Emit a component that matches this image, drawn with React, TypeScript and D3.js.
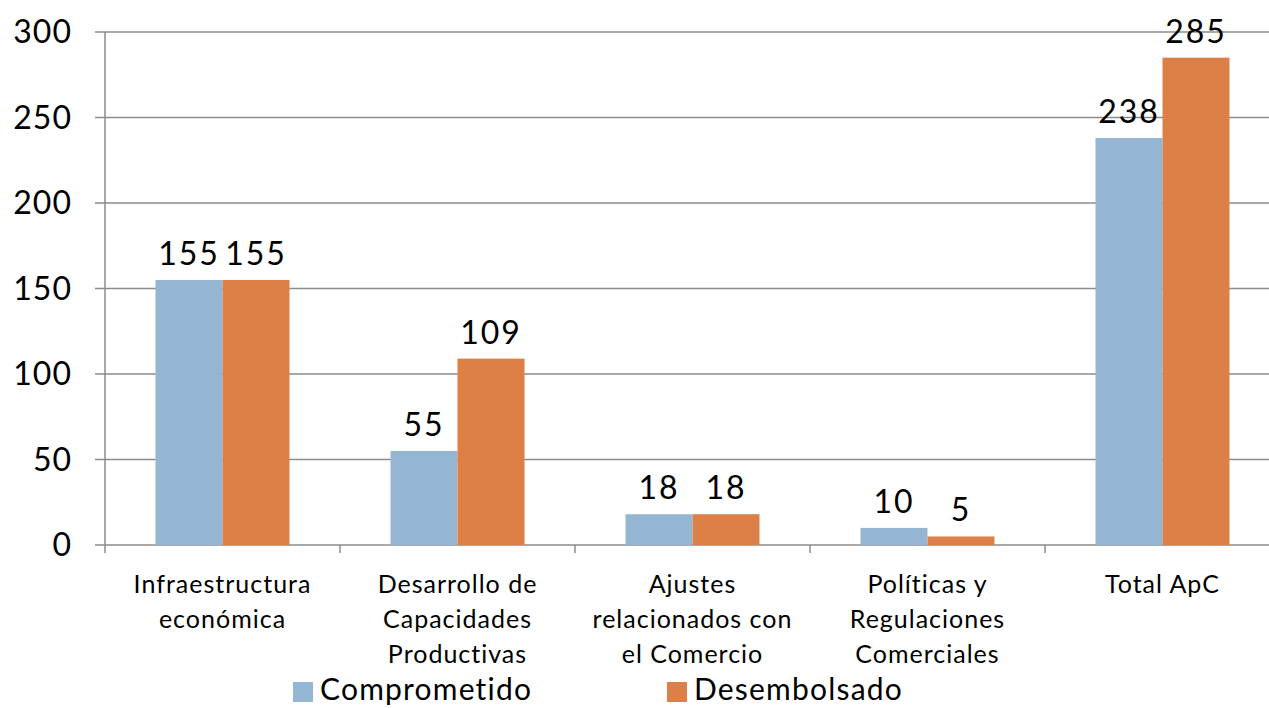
import React from "react";
import * as d3 from "d3";

const categories: string[][] = [
  ["Infraestructura", "económica"],
  ["Desarrollo de", "Capacidades", "Productivas"],
  ["Ajustes", "relacionados con", "el Comercio"],
  ["Políticas y", "Regulaciones", "Comerciales"],
  ["Total ApC"],
];
const comprometido = [155, 55, 18, 10, 238];
const desembolsado = [155, 109, 18, 5, 285];
const seriesNames = ["Comprometido", "Desembolsado"];
const yTicks = [0, 50, 100, 150, 200, 250, 300];

const W = 1269;
const H = 708;
const FONT = "Lato, 'Open Sans', sans-serif";
const COLORS = ["#94B6D2", "#DD8047"];

export default function App() {
  const left = 105;
  const right = 1280;
  const top = 32;
  const bottom = 545;
  const y = d3.scaleLinear().domain([0, 300]).range([bottom, top]);
  const x = d3
    .scaleBand<number>()
    .domain(categories.map((_, i) => i))
    .range([left, right]);
  const bw = 67;
  const series = [comprometido, desembolsado];

  return (
    <svg
      width={W}
      height={H}
      style={{ position: "absolute", left: 0, top: 0, background: "#fff" }}
      fontFamily={FONT}
    >
      {yTicks.map((t) => (
        <g key={t}>
          <line x1={95} x2={right} y1={y(t)} y2={y(t)} stroke="#8C8C8C" strokeWidth={1.5} />
          <text x={72} y={y(t) + 11} textAnchor="end" fontSize={32} letterSpacing={1} fill="#000">
            {t}
          </text>
        </g>
      ))}
      <line x1={left} x2={left} y1={top} y2={bottom + 8} stroke="#8C8C8C" strokeWidth={1.5} />
      {categories.map((_, i) => (
        <line
          key={i}
          x1={(x(i) as number) + x.bandwidth()}
          x2={(x(i) as number) + x.bandwidth()}
          y1={bottom}
          y2={bottom + 8}
          stroke="#8C8C8C"
          strokeWidth={1.5}
        />
      ))}
      {series.map((vals, s) =>
        vals.map((v, i) => {
          const cx = (x(i) as number) + x.bandwidth() / 2;
          const bx = cx - bw + s * bw;
          return (
            <g key={s + "-" + i}>
              <rect x={bx} y={y(v)} width={bw} height={bottom - y(v)} fill={COLORS[s]} />
              <text
                x={bx + bw / 2}
                y={y(v) - 15}
                textAnchor="middle"
                fontSize={32}
                letterSpacing={2}
                fill="#000"
              >
                {v}
              </text>
            </g>
          );
        })
      )}
      {categories.map((lines, i) => {
        const cx = (x(i) as number) + x.bandwidth() / 2;
        return (
          <text key={i} textAnchor="middle" fontSize={25} letterSpacing={1} fill="#000">
            {lines.map((l, j) => (
              <tspan key={j} x={cx} y={593 + j * 35}>
                {l}
              </tspan>
            ))}
          </text>
        );
      })}
      {seriesNames.map((n, s) => {
        const lx = s === 0 ? 293 : 667;
        return (
          <g key={n}>
            <rect x={lx} y={682} width={20} height={20} fill={COLORS[s]} />
            <text x={lx + 27} y={700} fontSize={30} letterSpacing={1.2} fill="#000">
              {n}
            </text>
          </g>
        );
      })}
    </svg>
  );
}
